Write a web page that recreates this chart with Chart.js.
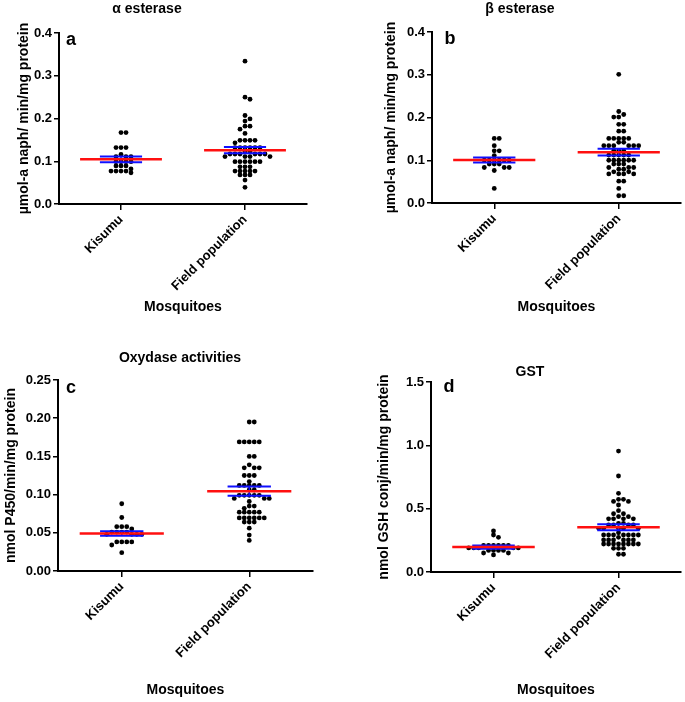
<!DOCTYPE html>
<html>
<head>
<meta charset="utf-8">
<script src="https://cdn.jsdelivr.net/npm/chart.js@4.4.1/dist/chart.umd.min.js"></script>
<style>
  html, body { margin: 0; padding: 0; background: #fff; }
  body { width: 685px; height: 702px; position: relative; overflow: hidden; }
  canvas { position: absolute; }
</style>
</head>
<body>
<canvas id="ca" width="342" height="330" style="left:0;top:0"></canvas>
<canvas id="cb" width="343" height="330" style="left:342px;top:0"></canvas>
<canvas id="cc" width="342" height="372" style="left:0;top:330px"></canvas>
<canvas id="cd" width="343" height="372" style="left:342px;top:330px"></canvas>
<script>
// groups on the x axis
const groups = ['Kisumu', 'Field population'];

// a - alpha esterase
const alphaKisumu = [0.167, 0.167, 0.132, 0.132, 0.132, 0.116, 0.111, 0.111, 0.111, 0.099, 0.099, 0.099, 0.099,
  0.089, 0.089, 0.089, 0.082, 0.077, 0.077, 0.077, 0.077, 0.073];
const alphaField = [0.334, 0.250, 0.245, 0.207, 0.199, 0.194, 0.182, 0.182, 0.175, 0.165,
  0.149, 0.149, 0.149, 0.149, 0.143, 0.132, 0.132, 0.132, 0.132, 0.132, 0.132, 0.122, 0.122,
  0.117, 0.117, 0.117, 0.117, 0.117, 0.117, 0.111, 0.111, 0.111, 0.111,
  0.099, 0.099, 0.099, 0.099, 0.099, 0.099, 0.087, 0.087, 0.087,
  0.077, 0.077, 0.077, 0.077, 0.077, 0.068, 0.068, 0.068, 0.056, 0.039];
const alphaMean = [0.1045, 0.126];
const alphaSem = [0.0068, 0.0075];

// b - beta esterase
const betaKisumu = [0.151, 0.151, 0.134, 0.122, 0.122, 0.111, 0.100, 0.100, 0.100, 0.100, 0.100, 0.100,
  0.091, 0.091, 0.091, 0.083, 0.083, 0.083, 0.076, 0.034];
const betaField = [0.301, 0.214, 0.207, 0.201, 0.201, 0.184, 0.184, 0.168, 0.168,
  0.151, 0.151, 0.151, 0.151, 0.151, 0.142, 0.142, 0.134, 0.134, 0.134, 0.134, 0.134, 0.134,
  0.122, 0.122, 0.122, 0.112, 0.112, 0.112, 0.112, 0.112, 0.100, 0.100, 0.100, 0.100, 0.100, 0.100,
  0.091, 0.091, 0.091, 0.083, 0.083, 0.083, 0.079, 0.079, 0.073, 0.073,
  0.068, 0.068, 0.068, 0.068, 0.051, 0.051, 0.034, 0.017, 0.017];
const betaMean = [0.1006, 0.119];
const betaSem = [0.006, 0.008];

// c - oxydase
const oxyKisumu = [0.088, 0.070, 0.058, 0.058, 0.058, 0.055, 0.051, 0.051, 0.051, 0.051,
  0.048, 0.048, 0.048, 0.048, 0.038, 0.038, 0.038, 0.038, 0.034, 0.024];
const oxyField = [0.195, 0.195, 0.169, 0.169, 0.169, 0.169, 0.169, 0.150, 0.150, 0.139,
  0.135, 0.135, 0.135, 0.125, 0.125, 0.125, 0.117, 0.112, 0.112, 0.112, 0.112, 0.112, 0.106, 0.106,
  0.099, 0.099, 0.099, 0.099, 0.099, 0.095, 0.095, 0.095, 0.091, 0.085, 0.085, 0.082,
  0.077, 0.077, 0.077, 0.077, 0.077, 0.0695, 0.0695, 0.0695, 0.0695, 0.0695, 0.0695,
  0.064, 0.064, 0.064, 0.056, 0.047, 0.040];
const oxyMean = [0.049, 0.1045];
const oxySem = [0.003, 0.006];

// d - GST
const gstKisumu = [0.324, 0.292, 0.274, 0.21, 0.21, 0.21, 0.21, 0.21, 0.21,
  0.19, 0.19, 0.19, 0.19, 0.19, 0.17, 0.17, 0.17, 0.17, 0.15, 0.15, 0.135];
const gstField = [0.955, 0.758, 0.621, 0.574, 0.574, 0.557, 0.557, 0.529, 0.484, 0.46, 0.46,
  0.437, 0.437, 0.42, 0.42, 0.42, 0.42, 0.384, 0.384, 0.371, 0.371, 0.371, 0.371,
  0.345, 0.345, 0.345, 0.345, 0.345, 0.31, 0.292, 0.292, 0.292, 0.292, 0.292, 0.292, 0.292, 0.274,
  0.253, 0.253, 0.253, 0.253, 0.253, 0.253, 0.221, 0.221, 0.221, 0.221, 0.221, 0.221, 0.221, 0.221,
  0.187, 0.187, 0.187, 0.14, 0.14];
const gstMean = [0.197, 0.353];
const gstSem = [0.013, 0.024];

const FONT = '"Liberation Sans", Arial, sans-serif';
Chart.defaults.font.family = FONT;
Chart.defaults.color = '#000';

// titles and panel letters are drawn at fixed spots
const panelText = {
  id: 'panelText',
  afterDraw(chart, args, o) {
    const ctx = chart.ctx;
    ctx.save();
    ctx.fillStyle = '#000';
    ctx.textAlign = 'center';
    ctx.textBaseline = 'middle';
    ctx.font = 'bold 14px ' + FONT;
    ctx.fillText(o.title, o.titleX, o.titleY);
    ctx.font = 'bold 18px ' + FONT;
    ctx.fillText(o.letter, o.letterX, o.letterY);
    ctx.restore();
  }
};

// simple beeswarm: slots of 5px, first free one from the centre out
function swarm(values, slot, xPx, yPx) {
  const placed = [];
  return values.map(v => {
    let off = 0;
    for (let k = 0; k < 40; k++) {
      off = (k % 2 ? 1 : -1) * Math.ceil(k / 2);
      const hit = placed.some(p => {
        const dx = (off - p.off) * 5, dy = (v - p.v) * yPx * 1.3;
        return dx * dx + dy * dy < 4.6 * 4.6;
      });
      if (!hit) break;
    }
    placed.push({ off, v });
    return { x: slot + off * 5 / xPx, y: v };
  });
}

function makePanel(p) {
  const xPx = (p.right - p.left) / 2;
  const yPx = (p.bottom - p.top) / p.yMax;
  const datasets = [];
  [p.kisumu, p.field].forEach((vals, i) => {
    datasets.push({ data: swarm(vals, i, xPx, yPx), pointRadius: 2.4, pointBackgroundColor: '#000',
      pointBorderWidth: 0, showLine: false, order: 3 });
    const m = p.mean[i], s = p.sem[i];
    [m - s, m + s].forEach(y => datasets.push({
      data: [{ x: i - 0.17, y }, { x: i + 0.17, y }], showLine: true, borderColor: '#1010ff',
      borderWidth: 2, pointRadius: 0, order: 2 }));
    datasets.push({ data: [{ x: i, y: m - s }, { x: i, y: m + s }], showLine: true, borderColor: '#1010ff',
      borderWidth: 1.5, pointRadius: 0, order: 2 });
    datasets.push({ data: [{ x: i - 0.33, y: m }, { x: i + 0.33, y: m }], showLine: true, borderColor: '#ff1010',
      borderWidth: 2.5, pointRadius: 0, order: 1 });
  });

  new Chart(document.getElementById(p.id), {
    type: 'scatter',
    data: { datasets },
    options: {
      responsive: false,
      animation: false,
      layout: { padding: { left: 0, top: p.top, right: p.w - p.right, bottom: 0 } },
      plugins: {
        legend: { display: false },
        tooltip: { enabled: false },
        panelText: { title: p.title, titleX: p.titleX, titleY: p.titleY, letter: p.letter, letterX: p.letterX, letterY: p.letterY }
      },
      scales: {
        x: {
          type: 'linear', min: -0.5, max: 1.5,
          afterBuildTicks: s => { s.ticks = [{ value: 0 }, { value: 1 }]; },
          afterFit: s => { s.height = p.h - p.bottom; },
          border: { display: true, color: '#000', width: 2 },
          grid: { drawOnChartArea: false, color: '#000', lineWidth: 1.5, tickLength: 6 },
          ticks: { autoSkip: false, minRotation: 45, maxRotation: 45, padding: 2,
            font: { size: 13, weight: 'bold' }, callback: v => groups[v] },
          title: { display: true, text: 'Mosquitoes', font: { size: 14, weight: 'bold' },
            padding: { top: 0, bottom: p.xTitlePad } }
        },
        y: {
          min: 0, max: p.yMax,
          afterFit: s => { s.width = p.left; },
          border: { display: true, color: '#000', width: 2 },
          grid: { drawOnChartArea: false, color: '#000', lineWidth: 1.5, tickLength: 5 },
          ticks: { stepSize: p.step, padding: 2, font: { size: 13, weight: 'bold' },
            callback: v => v.toFixed(p.dec) },
          title: { display: true, text: p.yTitle, font: { size: 14, weight: 'bold' },
            padding: { top: p.yTitlePad, bottom: 0 } }
        }
      }
    },
    plugins: [panelText]
  });
}

makePanel({ id: 'ca', w: 342, h: 330, left: 59, right: 307, top: 33, bottom: 204, yMax: 0.4, step: 0.1, dec: 1,
  kisumu: alphaKisumu, field: alphaField, mean: alphaMean, sem: alphaSem,
  yTitle: 'µmol-a naph/ min/mg protein', yTitlePad: 16, xTitlePad: 14,
  title: 'α esterase', titleX: 147, titleY: 9, letter: 'a', letterX: 71, letterY: 40 });
makePanel({ id: 'cb', w: 343, h: 330, left: 90, right: 340, top: 32, bottom: 203, yMax: 0.4, step: 0.1, dec: 1,
  kisumu: betaKisumu, field: betaField, mean: betaMean, sem: betaSem,
  yTitle: 'µmol-a naph/ min/mg protein', yTitlePad: 41, xTitlePad: 14,
  title: 'β esterase', titleX: 178, titleY: 9, letter: 'b', letterX: 108, letterY: 39 });
makePanel({ id: 'cc', w: 342, h: 372, left: 58, right: 313, top: 50, bottom: 241, yMax: 0.25, step: 0.05, dec: 2,
  kisumu: oxyKisumu, field: oxyField, mean: oxyMean, sem: oxySem,
  yTitle: 'nmol P450/min/mg protein', yTitlePad: 3, xTitlePad: 3,
  title: 'Oxydase activities', titleX: 180, titleY: 28, letter: 'c', letterX: 71, letterY: 58 });
makePanel({ id: 'cd', w: 343, h: 372, left: 89, right: 341, top: 52, bottom: 242, yMax: 1.5, step: 0.5, dec: 1,
  kisumu: gstKisumu, field: gstField, mean: gstMean, sem: gstSem,
  yTitle: 'nmol GSH conj/min/mg protein', yTitlePad: 34, xTitlePad: 3,
  title: 'GST', titleX: 188, titleY: 42, letter: 'd', letterX: 107, letterY: 57 });
</script>
</body>
</html>
